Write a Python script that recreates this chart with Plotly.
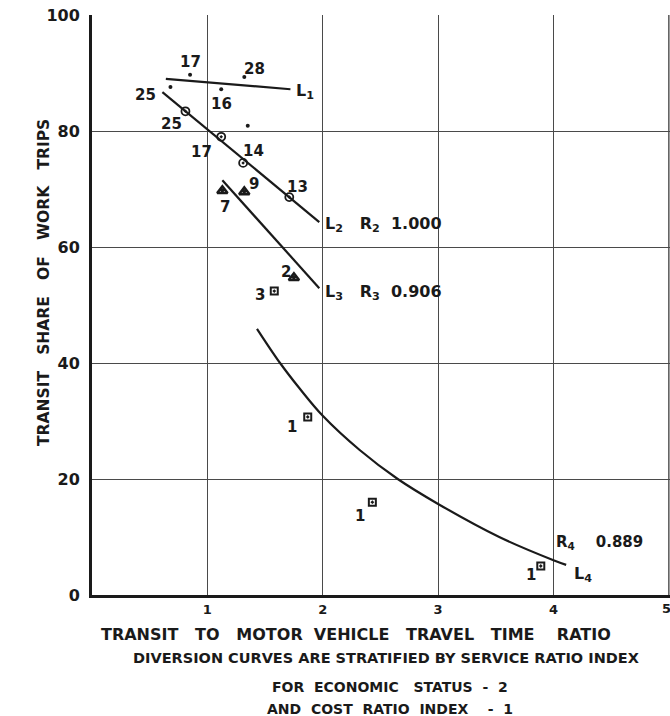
import plotly.graph_objects as go

# ---- data ----
dot_x = [0.85, 1.32, 0.68, 1.12, 1.35]
dot_y = [89.7, 89.3, 87.6, 87.2, 80.9]
dot_lbl = ["17", "28", "25", "16", ""]

circ_x = [0.81, 1.12, 1.31, 1.71]
circ_y = [83.4, 79.0, 74.5, 68.6]
circ_lbl = ["25", "17", "14", "13"]

tri_x = [1.13, 1.32, 1.75]
tri_y = [69.7, 69.5, 54.7]
tri_lbl = ["7", "9", "2"]

sq_x = [1.58, 1.87, 2.43, 3.89]
sq_y = [52.4, 30.7, 16.0, 5.0]
sq_lbl = ["3", "1", "1", "1"]

L1_x = [0.64, 1.72]
L1_y = [89.0, 87.2]
L2_x = [0.61, 1.97]
L2_y = [86.7, 64.3]
L3_x = [1.13, 1.97]
L3_y = [71.5, 52.9]
L4_x = [1.43, 1.63, 1.80, 2.00, 2.32, 2.65, 3.00, 3.53, 4.00, 4.11]
L4_y = [45.9, 40.0, 35.6, 30.9, 25.0, 20.0, 15.7, 10.0, 6.0, 5.2]

x_ticks = [1, 2, 3, 4, 5]
y_ticks = [0, 20, 40, 60, 80, 100]

FONT = "DejaVu Sans"
INK = "#1a1a1a"

fig = go.Figure()
for xs, ys in [(L1_x, L1_y), (L2_x, L2_y), (L3_x, L3_y)]:
    fig.add_trace(go.Scatter(x=xs, y=ys, mode="lines",
                             line=dict(color=INK, width=2.2)))
fig.add_trace(go.Scatter(x=L4_x, y=L4_y, mode="lines",
                         line=dict(color=INK, width=2.2, shape="spline", smoothing=1.0)))

fig.add_trace(go.Scatter(x=dot_x, y=dot_y, mode="markers",
                         marker=dict(color=INK, size=4)))
fig.add_trace(go.Scatter(x=circ_x, y=circ_y, mode="markers",
                         marker=dict(symbol="circle-open-dot", color=INK, size=8,
                                     line=dict(width=1.8))))
fig.add_trace(go.Scatter(x=tri_x, y=tri_y, mode="markers",
                         marker=dict(symbol="triangle-up-open-dot", color=INK, size=9,
                                     line=dict(width=2.5))))
fig.add_trace(go.Scatter(x=sq_x, y=sq_y, mode="markers",
                         marker=dict(symbol="square-open-dot", color=INK, size=7,
                                     line=dict(width=2))))

ann = []
def lbl(x, y, t, dx, dy, size=15):
    ann.append(dict(x=x, y=y, xref="x", yref="y", text=t, showarrow=False,
                    xshift=dx, yshift=dy,
                    font=dict(family=FONT, size=size, color=INK, weight="bold")))

# point labels (offsets in px)
dot_off = [(0, 13), (10, 8), (-25, -8), (0, -15), (0, 0)]
for x, y, t, (dx, dy) in zip(dot_x, dot_y, dot_lbl, dot_off):
    if t:
        lbl(x, y, t, dx, dy)
circ_off = [(-14, -13), (-20, -15), (10, 12), (8, 10)]
for x, y, t, (dx, dy) in zip(circ_x, circ_y, circ_lbl, circ_off):
    lbl(x, y, t, dx, dy)
tri_off = [(3, -16), (10, 8), (-8, 6)]
for x, y, t, (dx, dy) in zip(tri_x, tri_y, tri_lbl, tri_off):
    lbl(x, y, t, dx, dy)
sq_off = [(-14, -4), (-16, -10), (-12, -14), (-10, -9)]
for x, y, t, (dx, dy) in zip(sq_x, sq_y, sq_lbl, sq_off):
    lbl(x, y, t, dx, dy)

# line labels
def linelbl(x, y, t, dx, dy, size=16):
    ann.append(dict(x=x, y=y, xref="x", yref="y", text=t, showarrow=False,
                    xanchor="left", xshift=dx, yshift=dy,
                    font=dict(family=FONT, size=size, color=INK, weight="bold")))
linelbl(L1_x[-1], L1_y[-1], "L<sub>1</sub>", 4, -2)
linelbl(L2_x[-1], L2_y[-1], "L<sub>2</sub>   R<sub>2</sub>  1.000", 4, -2)
linelbl(L3_x[-1], L3_y[-1], "L<sub>3</sub>   R<sub>3</sub>  0.906", 4, -4)
linelbl(L4_x[-1], L4_y[-1], "L<sub>4</sub>", 6, -10)
linelbl(L4_x[-1], L4_y[-1], "R<sub>4</sub>    0.889", -12, 22, 15)

# bottom texts (pixel offsets below plot bottom)
def bottom(t, cx, dy, size):
    ann.append(dict(x=cx, y=0, xref="x", yref="paper", text=t, showarrow=False,
                    yanchor="middle", yshift=-dy,
                    font=dict(family=FONT, size=size, color=INK, weight="bold")))
bottom("TRANSIT   TO   MOTOR  VEHICLE   TRAVEL   TIME    RATIO", 2.29, 39, 16)
bottom("DIVERSION CURVES ARE STRATIFIED BY SERVICE RATIO INDEX", 2.55, 63, 14.5)
bottom("FOR  ECONOMIC   STATUS  -  2", 2.58, 92, 14)
bottom("AND  COST  RATIO  INDEX    -  1", 2.58, 114, 14)

# last x tick label, partly cut by the right edge as in the reference
ann.append(dict(x=x_ticks[-1], y=0, xref="x", yref="paper", text=str(x_ticks[-1]),
                showarrow=False, yanchor="middle", yshift=-13, xshift=-2,
                font=dict(family=FONT, size=13, color=INK, weight="bold")))

# y-axis title (as annotation, centred where the reference puts it)
ann.append(dict(x=0, y=0.538, xref="paper", yref="paper", xshift=-59,
                text="TRANSIT   SHARE   OF   WORK   TRIPS", textangle=-90,
                showarrow=False,
                font=dict(family=FONT, size=15.5, color=INK, weight="bold")))

fig.update_layout(
    width=670, height=716,
    margin=dict(l=92, r=0, t=15, b=121),
    paper_bgcolor="white", plot_bgcolor="white",
    showlegend=False,
    annotations=ann,
    font=dict(family=FONT, color=INK),
)
fig.update_xaxes(range=[0, 5.01], tickvals=x_ticks[:-1],
                 ticktext=[str(v) for v in x_ticks[:-1]],
                 showgrid=True, gridcolor="#4a4a4a", gridwidth=1.4,
                 showline=True, linecolor=INK, linewidth=3, zeroline=False,
                 ticks="", tickfont=dict(family=FONT, size=13, color=INK, weight="bold"))
fig.add_vline(x=x_ticks[-1], line=dict(color="#4a4a4a", width=1.4), layer="below")
fig.update_yaxes(range=[0, 100], tickvals=y_ticks, ticktext=[str(v) for v in y_ticks],
                 showgrid=True, gridcolor="#4a4a4a", gridwidth=1.4,
                 showline=True, linecolor=INK, linewidth=3, zeroline=False,
                 ticks="", ticklabelstandoff=6,
                 tickfont=dict(family=FONT, size=16, color=INK, weight="bold"))

fig.write_html("out.html")
